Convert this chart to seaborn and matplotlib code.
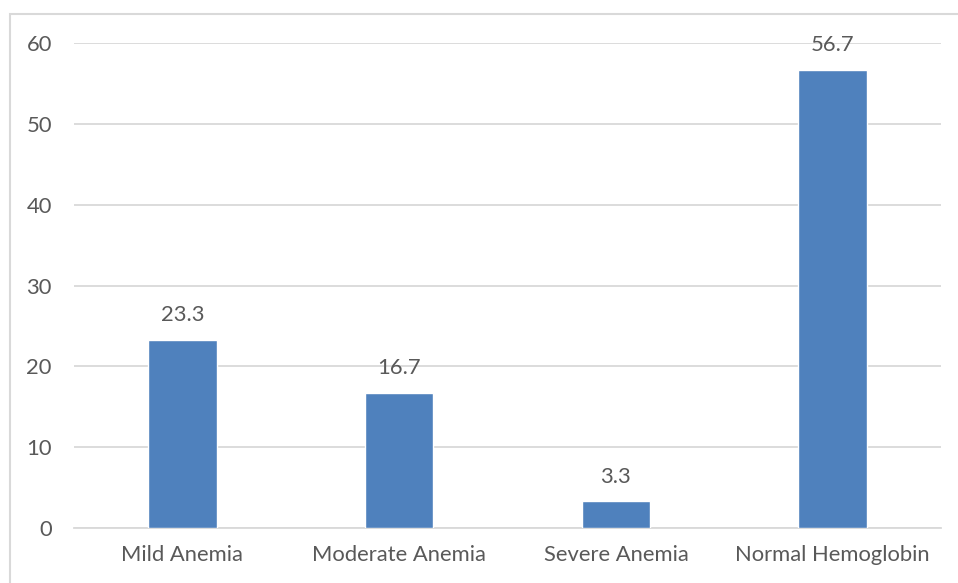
import matplotlib
matplotlib.use("Agg")
import matplotlib.pyplot as plt
import seaborn as sns
import pandas as pd
from matplotlib.patches import Rectangle

categories = ["Mild Anemia", "Moderate Anemia", "Severe Anemia", "Normal Hemoglobin"]
values = [23.3, 16.7, 3.3, 56.7]
yticks = [0, 10, 20, 30, 40, 50, 60]

sns.set_theme(style="white")
plt.rcParams["font.family"] = ["Lato", "DejaVu Sans"]

text_color = "#595959"
grid_color = "#D9D9D9"
bar_color = "#4F81BD"
font_size = 15.8

df = pd.DataFrame({"category": categories, "value": values})

fig = plt.figure(figsize=(9.58, 5.83), dpi=100)
ax = fig.add_axes([74 / 958, 1 - 528 / 583, (941 - 74) / 958, (528 - 43) / 583])

sns.barplot(data=df, x="category", y="value", color=bar_color, width=0.315,
            saturation=1, ax=ax, zorder=3)

ax.set_ylim(0, 60)
ax.set_yticks(yticks)
ax.set_xlim(-0.5, len(categories) - 0.5)
ax.yaxis.grid(True, color=grid_color, linewidth=1.3, zorder=0)
ax.set_axisbelow(True)
for s in ["top", "right", "left"]:
    ax.spines[s].set_visible(False)
ax.spines["bottom"].set_color(grid_color)
ax.spines["bottom"].set_linewidth(1.3)
ax.set_xlabel("")
ax.set_ylabel("")
ax.tick_params(axis="both", length=0, labelsize=font_size, colors=text_color)
ax.tick_params(axis="y", pad=16)
ax.tick_params(axis="x", pad=12.5)

for i, v in enumerate(values):
    ax.annotate(f"{v:.1f}", (i, v), xytext=(0, 10.5), textcoords="offset points",
                ha="center", va="bottom", fontsize=font_size, color=text_color)

# chart frame
fig.patches.append(Rectangle((9.5 / 958, -0.1), 1.1, 1 - 14 / 583 + 0.1,
                             transform=fig.transFigure, fill=False,
                             edgecolor=grid_color, linewidth=1.5))

fig.savefig("out.png", dpi=100, facecolor="white")
